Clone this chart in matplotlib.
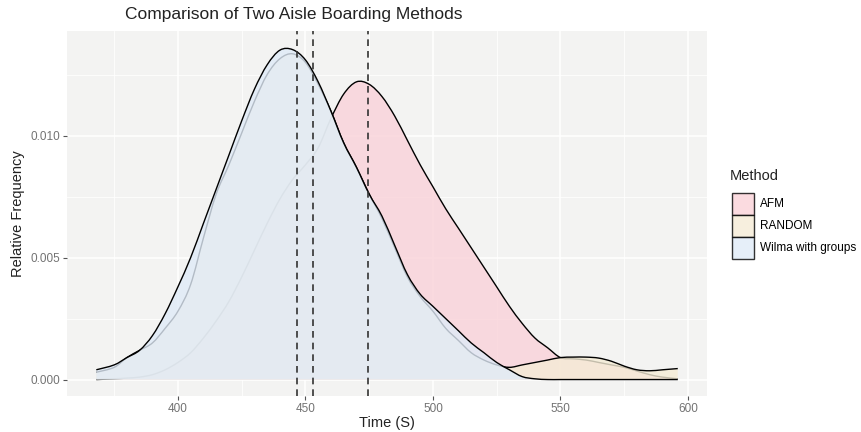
import matplotlib
matplotlib.use("Agg")
import matplotlib.pyplot as plt
from matplotlib.patches import Patch, PathPatch
from matplotlib.path import Path

plt.rcParams['font.family'] = ['Liberation Sans', 'DejaVu Sans']

# time grid (s) and the three density curves
time_s = [368, 375, 380, 385, 390, 395, 400, 405, 410, 415, 420, 425, 430, 435,
          440, 445, 450, 455, 460, 465, 470, 475, 480, 485, 490, 495, 500, 505,
          510, 515, 520, 525, 530, 535, 540, 545, 550, 555, 560, 565, 570, 575,
          580, 585, 590, 596]

afm = [0.00000, 0.00003, 0.00006, 0.00010, 0.00020, 0.00040, 0.00070, 0.00110,
       0.00170, 0.00240, 0.00320, 0.00420, 0.00530, 0.00640, 0.00740, 0.00820,
       0.00880, 0.00950, 0.01070, 0.01170, 0.01220, 0.01210, 0.01160, 0.01080,
       0.00980, 0.00880, 0.00790, 0.00700, 0.00620, 0.00540, 0.00460, 0.00380,
       0.00300, 0.00230, 0.00170, 0.00130, 0.00090, 0.00085, 0.00080, 0.00070,
       0.00060, 0.00050, 0.00035, 0.00020, 0.00010, 0.00003]

random_m = [0.00030, 0.00050, 0.00090, 0.00120, 0.00150, 0.00210, 0.00280, 0.00390,
            0.00580, 0.00760, 0.00880, 0.01010, 0.01140, 0.01250, 0.01315, 0.01335,
            0.01300, 0.01210, 0.01100, 0.00970, 0.00870, 0.00760, 0.00660, 0.00540,
            0.00420, 0.00340, 0.00280, 0.00210, 0.00160, 0.00110, 0.00080, 0.00060,
            0.00050, 0.00060, 0.00070, 0.00080, 0.00090, 0.00092, 0.00092, 0.00088,
            0.00075, 0.00055, 0.00040, 0.00036, 0.00040, 0.00045]

wilma = [0.00040, 0.00060, 0.00090, 0.00120, 0.00180, 0.00270, 0.00380, 0.00500,
         0.00640, 0.00780, 0.00920, 0.01060, 0.01190, 0.01290, 0.01350, 0.01352,
         0.01310, 0.01220, 0.01100, 0.00970, 0.00870, 0.00760, 0.00670, 0.00550,
         0.00430, 0.00350, 0.00300, 0.00250, 0.00200, 0.00150, 0.00110, 0.00070,
         0.00040, 0.00012, 0.00003, 0.0, 0.0, 0.0, 0.0, 0.0,
         0.0, 0.0, 0.0, 0.0, 0.0, 0.0]

methods = ['AFM', 'RANDOM', 'Wilma with groups']
fills = ['#FAD2D9', '#F5ECD6', '#E0EBF8']
mean_times = [446.7, 452.9, 474.5]


def smooth_path(xs, ys, close=False):
    # Catmull-Rom through the read points, drawn as cubic Bezier segments
    verts = [(xs[0], ys[0])]
    codes = [Path.MOVETO]
    n = len(xs)
    for k in range(n - 1):
        x0, y0 = (xs[k - 1], ys[k - 1]) if k > 0 else (xs[k], ys[k])
        x1, y1 = xs[k], ys[k]
        x2, y2 = xs[k + 1], ys[k + 1]
        x3, y3 = (xs[k + 2], ys[k + 2]) if k + 2 < n else (x2, y2)
        verts += [(x1 + (x2 - x0) / 6, y1 + (y2 - y0) / 6),
                  (x2 - (x3 - x1) / 6, y2 - (y3 - y1) / 6),
                  (x2, y2)]
        codes += [Path.CURVE4] * 3
    if close:
        verts += [(xs[-1], 0), (xs[0], 0), (xs[0], ys[0])]
        codes += [Path.LINETO, Path.LINETO, Path.CLOSEPOLY]
    return Path(verts, codes)


fig = plt.figure(figsize=(8.62, 4.32), dpi=100)
ax = fig.add_axes([0.078, 0.083, 0.742, 0.845])
ax.set_facecolor('#F3F3F2')

# ggplot draws each group (fill + outline) in turn
for i, ys in enumerate([afm, random_m, wilma]):
    ax.add_patch(PathPatch(smooth_path(time_s, ys, close=True), facecolor=fills[i],
                           alpha=0.8, lw=0, zorder=2 + 2 * i))
    ax.add_patch(PathPatch(smooth_path(time_s, ys), facecolor='none',
                           edgecolor='black', lw=1.0, zorder=3 + 2 * i))

for m in mean_times:
    ax.axvline(m, color='#333333', lw=1.2, ls=(0, (4, 3)), zorder=10)

ax.set_xlim(356.6, 607.4)
ax.set_ylim(-0.00068, 0.01428)
ax.set_xticks([400, 450, 500, 550, 600])
ax.set_xticks([375, 425, 475, 525, 575], minor=True)
ax.set_yticks([0.0, 0.005, 0.010])
ax.set_yticklabels(['0.000', '0.005', '0.010'])
ax.set_yticks([0.0025, 0.0075, 0.0125], minor=True)
ax.grid(which='major', color='white', lw=1.1, zorder=0)
ax.grid(which='minor', color='white', lw=0.55, zorder=0)
ax.set_axisbelow(True)
for s in ax.spines.values():
    s.set_visible(False)
ax.tick_params(which='major', length=3, color='#555555', labelcolor='#737373',
               labelsize=8.5, pad=2)
ax.tick_params(which='minor', length=0)

ax.set_xlabel('Time (S)', fontsize=10.5, color='#222222', labelpad=1)
ax.set_ylabel('Relative Frequency', fontsize=10.5, color='#222222', labelpad=4)
fig.text(125 / 862, 1 - 15 / 432, 'Comparison of Two Aisle Boarding Methods',
         fontsize=12.5, color='#222222', ha='left', va='center')

# legend title placed on its own, keys below
fig.text(730 / 862, 1 - 176 / 432, 'Method', fontsize=10.5, color='#222222',
         ha='left', va='center')
handles = [Patch(facecolor=fills[i], alpha=0.8, edgecolor='black', lw=1.0) for i in range(3)]
leg = fig.legend(handles, methods, loc='upper left', bbox_to_anchor=(721 / 862, 1 - 182 / 432),
                 frameon=False, fontsize=8.5, handlelength=1.9, handleheight=2.5,
                 labelspacing=0.0, handletextpad=0.5)
for h in leg.legend_handles:
    h.set_edgecolor('black')

plt.savefig('out.png', dpi=100)
